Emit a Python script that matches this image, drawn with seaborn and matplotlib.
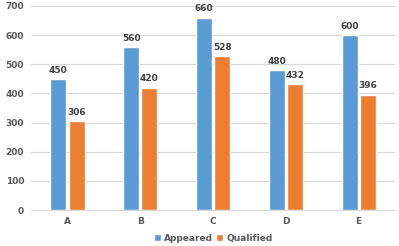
import matplotlib
matplotlib.use("Agg")
import matplotlib.pyplot as plt
import seaborn as sns
import pandas as pd

categories = ["A", "B", "C", "D", "E"]
appeared = [450, 560, 660, 480, 600]
qualified = [306, 420, 528, 432, 396]
series_names = ["Appeared", "Qualified"]
colors = ["#5B9BD5", "#ED7D31"]

df = pd.DataFrame({
    "cat": categories * 2,
    "val": appeared + qualified,
    "series": [series_names[0]] * 5 + [series_names[1]] * 5,
})

sns.set_style("white")
plt.rcParams['font.family'] = ['DejaVu Sans']

fig = plt.figure(figsize=(3.99, 2.46), dpi=100)
ax = fig.add_axes([0.078, 0.146, 0.912, 0.83])
sns.barplot(data=df, x="cat", y="val", hue="series", palette=colors,
            width=0.5, gap=0.12, ax=ax, saturation=1, legend=True)

ax.set_ylim(0, 700)
ax.set_yticks(range(0, 701, 100))
ax.yaxis.grid(True, color="#D9D9D9", linewidth=0.8)
ax.set_axisbelow(True)
for s in ["top", "right", "left"]:
    ax.spines[s].set_visible(False)
ax.spines["bottom"].set_color("#D9D9D9")
ax.set_xlabel("")
ax.set_ylabel("")
ax.tick_params(axis="both", length=0, labelsize=6.5, labelcolor="#595959", pad=5)
for lab in ax.get_xticklabels() + ax.get_yticklabels():
    lab.set_fontweight("bold")

for cont in ax.containers:
    ax.bar_label(cont, padding=3, fontsize=6.5, fontweight="bold", color="#404040")

leg = ax.legend(loc="upper center", bbox_to_anchor=(0.5, -0.085), ncol=2, frameon=False,
                fontsize=6.5, handlelength=0.8, handleheight=0.8, handletextpad=0.3,
                columnspacing=0.4, borderpad=0.2)
for t in leg.get_texts():
    t.set_fontweight("bold")
    t.set_color("#595959")

fig.savefig("out.png", dpi=100)
